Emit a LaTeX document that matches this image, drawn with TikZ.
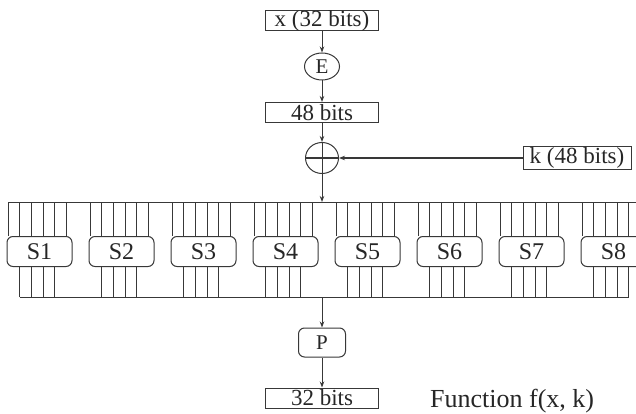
\documentclass[tikz,border=0pt]{standalone}
\usepackage{fontspec}
\setmainfont{Liberation Serif}
\usetikzlibrary{arrows.meta,shapes.geometric}
\definecolor{ln}{HTML}{383838}
\tikzset{
  ln/.style={draw=ln, line width=1pt},
  arr/.style={ln, -{Stealth[length=6pt,width=4.5pt]}},
  bitbox/.style={ln, rectangle, inner sep=0pt, minimum width=113pt, minimum height=19pt, text=black!85, font=\fontsize{23}{23}\selectfont},
  sbox/.style={ln, rectangle, rounded corners=6pt, inner sep=0pt, minimum width=65pt, minimum height=30pt, text=black!85, font=\fontsize{24}{24}\selectfont},
  circ/.style={ln, ellipse, inner sep=0pt, text=black!85, font=\fontsize{21}{21}\selectfont},
}
\begin{document}
\begin{tikzpicture}[x=1pt,y=-1pt]
\useasboundingbox (0,0) rectangle (636,414);
\clip (0,0) rectangle (636,414);
% top part
\node[bitbox] (xin) at (322,20.5) {x (32 bits)};
\node[circ, minimum width=35pt, minimum height=27pt] (e) at (322,66.5) {E};
\node[bitbox, minimum height=20pt] (b48) at (322,112.5) {48 bits};
\node[ln, ellipse, minimum width=33pt, minimum height=31pt, inner sep=0pt] (xor) at (322,158) {};
\node[bitbox, minimum width=108pt, minimum height=22pt] (kin) at (577,158) {k (48 bits)};
\draw[arr] (xin.south) -- (e.north);
\draw[arr] (e.south) -- (b48.north);
\draw[arr] (b48.south) -- (xor.north);
\draw[ln] (xor.north) -- (xor.south);
\draw[ln] (xor.west) -- (xor.east);
\draw[arr] (kin.west) -- (xor.east);
% buses
\coordinate (tl) at (8,202);
\coordinate (tr) at (640,202);
\coordinate (tc) at (322,202);
\coordinate (bl) at (19.7,297);
\coordinate (br) at (628.8,297);
\coordinate (bc) at (322,297);
\draw[arr] (xor.south) -- (tc);
\draw[ln] (tl) -- (tr);
\draw[ln] (bl) -- (br);
% S-boxes
\foreach \i in {0,...,7}{
  \pgfmathsetmacro{\xo}{8+82*\i}
  \pgfmathtruncatemacro{\n}{\i+1}
  \node[sbox] (s\n) at (\xo+31.5,251.5) {S\n};
  \foreach \j in {0,...,5}{
    \coordinate (t\n-\j) at (\xo+11.7*\j,202);
    \draw[ln] (t\n-\j) -- (t\n-\j |- s\n.north);
  }
  \foreach \j in {1,...,4}{
    \coordinate (u\n-\j) at (\xo+11.7*\j,297);
    \draw[ln] (u\n-\j |- s\n.south) -- (u\n-\j);
  }
}
% bottom part
\node[sbox, minimum width=47pt, minimum height=29pt, font=\fontsize{21}{21}\selectfont] (p) at (322,342.5) {P};
\node[bitbox, minimum height=20pt] (out) at (322,398) {32 bits};
\draw[arr] (bc) -- (p.north);
\draw[arr] (p.south) -- (out.north);
\node[anchor=base west, inner sep=0pt, text=black!85, font=\fontsize{26}{26}\selectfont] (fn) at (430,407) {Function f(x, k)};
\end{tikzpicture}
\end{document}
